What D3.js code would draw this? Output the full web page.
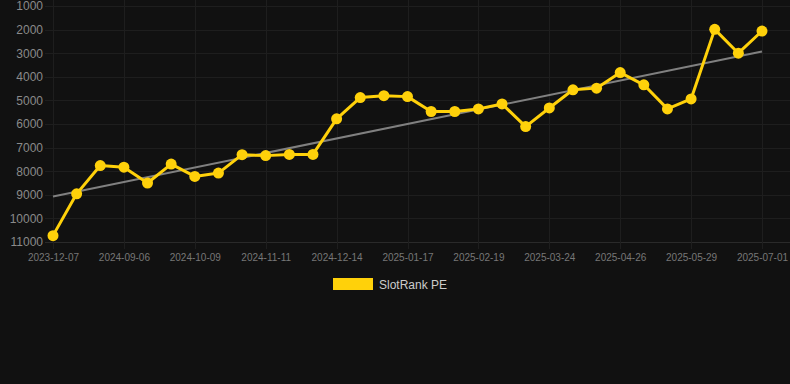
<!DOCTYPE html>
<html>
<head>
<meta charset="utf-8">
<script src="https://cdn.jsdelivr.net/npm/d3@7"></script>
<style>
  html, body { margin: 0; padding: 0; background: #111111; }
  svg { display: block; font-family: "Liberation Sans", Arial, Helvetica, sans-serif; }
</style>
</head>
<body>
<script>
// Categories (one per data point)
const dates = [
  '2023-12-07', '2024-08-15', '2024-08-26', '2024-09-06', '2024-09-17', '2024-09-28',
  '2024-10-09', '2024-10-20', '2024-10-31', '2024-11-11', '2024-11-22', '2024-12-03',
  '2024-12-14', '2024-12-25', '2025-01-05', '2025-01-17', '2025-01-28', '2025-02-08',
  '2025-02-19', '2025-03-02', '2025-03-13', '2025-03-24', '2025-04-04', '2025-04-15',
  '2025-04-26', '2025-05-07', '2025-05-18', '2025-05-29', '2025-06-09', '2025-06-20',
  '2025-07-01'
];

// SlotRank PE values
const rankValues = [
  10730, 8960, 7760, 7830, 8500, 7700,
  8220, 8080, 7300, 7340, 7290, 7290,
  5780, 4880, 4800, 4840, 5470, 5470,
  5360, 5150, 6110, 5320, 4550, 4480,
  3820, 4340, 5360, 4940, 1990, 3000,
  2060
];

// trend line end points (first and last date)
const trendDates = ['2023-12-07', '2025-07-01'];
const trendValues = [9070, 2930];

// tick labels
const yTicks = [1000, 2000, 3000, 4000, 5000, 6000, 7000, 8000, 9000, 10000, 11000];
const xTickLabels = [
  '2023-12-07', '2024-09-06', '2024-10-09', '2024-11-11', '2024-12-14', '2025-01-17',
  '2025-02-19', '2025-03-24', '2025-04-26', '2025-05-29', '2025-07-01'
];

const seriesName = 'SlotRank PE';

const w = 790;
const h = 384;
const plot = { left: 53, right: 762, top: 6, bottom: 242 };
const yellow = '#FFD10A';

const svg = d3.select('body')
  .append('svg')
  .attr('width', w)
  .attr('height', h);

// Scaling
const xScale = d3.scalePoint()
  .domain(dates)
  .range([plot.left, plot.right]);

const yScale = d3.scaleLinear()
  .domain([1000, 11000])
  .range([plot.top, plot.bottom]);

// Horizontal grid
svg.append('g')
  .selectAll('line')
  .data(yTicks)
  .enter()
  .append('line')
  .attr('x1', plot.left - 8)
  .attr('x2', w)
  .attr('y1', d => Math.round(yScale(d)) + 0.5)
  .attr('y2', d => Math.round(yScale(d)) + 0.5)
  .attr('stroke', d => (d === 11000 ? '#2a2a2a' : '#1e1e1e'))
  .attr('stroke-width', 1);

// Vertical grid (labelled ticks only)
svg.append('g')
  .selectAll('line')
  .data(xTickLabels)
  .enter()
  .append('line')
  .attr('x1', d => Math.round(xScale(d)) + 0.5)
  .attr('x2', d => Math.round(xScale(d)) + 0.5)
  .attr('y1', 0)
  .attr('y2', plot.bottom + 7)
  .attr('stroke', '#1e1e1e')
  .attr('stroke-width', 1);

// Y axis labels
const yAxis = d3.axisLeft(yScale)
  .tickValues(yTicks)
  .tickFormat(d3.format('d'))
  .tickSize(0)
  .tickPadding(0);

svg.append('g')
  .attr('transform', `translate(${plot.left - 10}, 0)`)
  .call(yAxis)
  .call(g => g.select('.domain').remove())
  .call(g => g.selectAll('text')
    .attr('fill', '#8a8a8a')
    .attr('font-size', 12)
    .attr('font-family', '"Liberation Sans", Arial, sans-serif'));

// X axis labels
const xAxis = d3.axisBottom(xScale)
  .tickValues(xTickLabels)
  .tickSize(0)
  .tickPadding(0);

svg.append('g')
  .attr('transform', `translate(0, ${plot.bottom + 12})`)
  .call(xAxis)
  .call(g => g.select('.domain').remove())
  .call(g => g.selectAll('text')
    .attr('fill', '#777777')
    .attr('font-size', 10)
    .attr('font-family', '"Liberation Sans", Arial, sans-serif'));

// Trend line
svg.append('line')
  .attr('x1', xScale(trendDates[0]))
  .attr('y1', yScale(trendValues[0]))
  .attr('x2', xScale(trendDates[1]))
  .attr('y2', yScale(trendValues[1]))
  .attr('stroke', '#808080')
  .attr('stroke-width', 2);

// Series line
const line = d3.line()
  .x((d, i) => xScale(dates[i]))
  .y(d => yScale(d));

svg.append('path')
  .datum(rankValues)
  .attr('d', line)
  .attr('fill', 'none')
  .attr('stroke', yellow)
  .attr('stroke-width', 3)
  .attr('stroke-linejoin', 'round');

// Points
svg.append('g')
  .selectAll('circle')
  .data(rankValues)
  .enter()
  .append('circle')
  .attr('cx', (d, i) => xScale(dates[i]))
  .attr('cy', d => yScale(d))
  .attr('r', 5.5)
  .attr('fill', yellow);

// Legend
const legend = svg.append('g')
  .attr('transform', 'translate(333, 278)');

legend.append('rect')
  .attr('width', 40)
  .attr('height', 12)
  .attr('fill', yellow);

legend.append('text')
  .attr('x', 46)
  .attr('y', 10.5)
  .attr('fill', '#cccccc')
  .attr('font-size', 12)
  .text(seriesName);
</script>
</body>
</html>
